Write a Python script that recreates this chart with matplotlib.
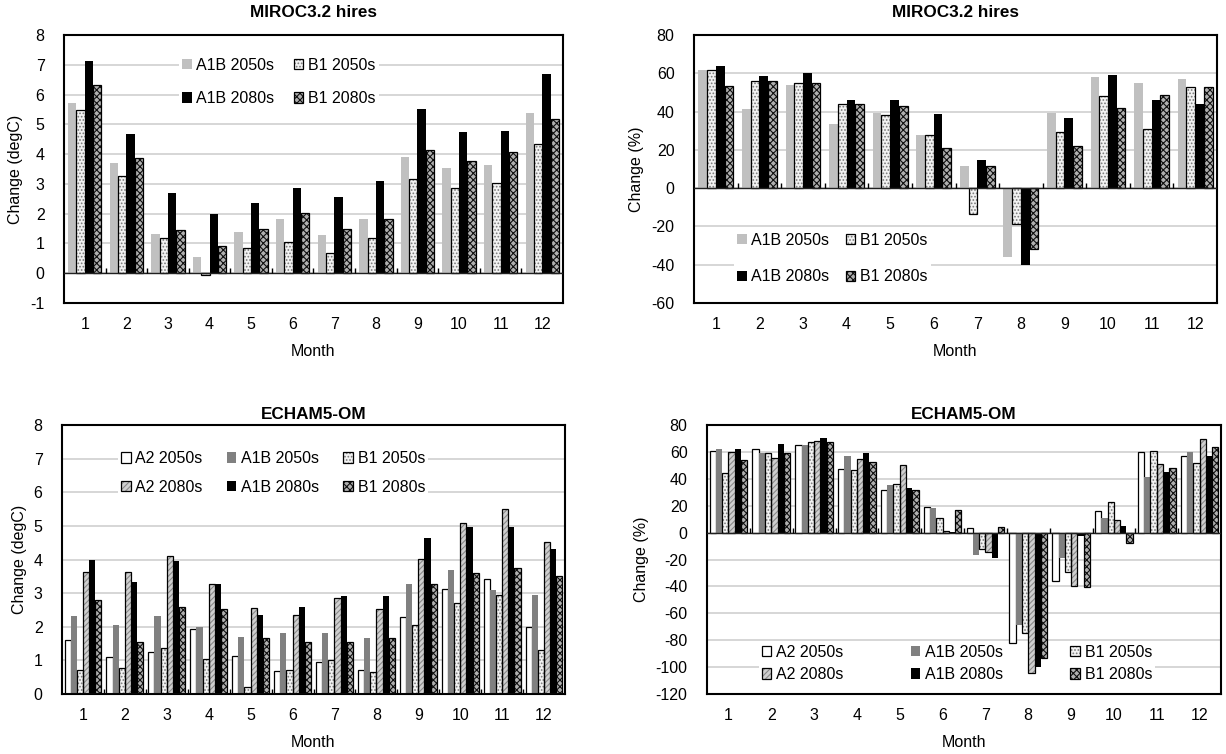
import numpy as np
import matplotlib
matplotlib.use('Agg')
import matplotlib.pyplot as plt
from matplotlib.legend_handler import HandlerTuple

plt.rcParams['font.family'] = ['Liberation Sans', 'DejaVu Sans']
plt.rcParams['font.size'] = 11
plt.rcParams['hatch.linewidth'] = 0.8

months = np.arange(1, 13)
month_labels = [str(m) for m in months]

# MIROC3.2 hires - temperature change (degC)
miroc_t_a1b_2050 = [5.72, 3.69, 1.31, 0.54, 1.40, 1.82, 1.30, 1.82, 3.90, 3.53, 3.63, 5.37]
miroc_t_b1_2050 = [5.47, 3.26, 1.17, -0.07, 0.86, 1.05, 0.68, 1.17, 3.15, 2.85, 3.04, 4.35]
miroc_t_a1b_2080 = [7.12, 4.69, 2.68, 1.98, 2.37, 2.86, 2.56, 3.11, 5.50, 4.73, 4.79, 6.70]
miroc_t_b1_2080 = [6.31, 3.88, 1.44, 0.91, 1.47, 2.03, 1.50, 1.81, 4.13, 3.78, 4.06, 5.17]

# MIROC3.2 hires - precipitation change (%)
miroc_p_a1b_2050 = [61.5, 41.5, 54.0, 33.5, 39.0, 28.0, 11.8, -36.2, 39.5, 58.0, 55.0, 57.2]
miroc_p_b1_2050 = [61.5, 56.0, 55.0, 44.0, 38.0, 27.5, -13.7, -18.9, 29.5, 48.2, 31.0, 52.9]
miroc_p_a1b_2080 = [64.0, 58.5, 60.0, 46.0, 46.0, 38.5, 14.6, -40.4, 36.4, 59.1, 45.8, 44.0]
miroc_p_b1_2080 = [53.5, 56.0, 55.0, 44.0, 43.0, 21.0, 11.4, -32.0, 22.2, 42.0, 48.7, 52.9]

# ECHAM5-OM - temperature change (degC)
echam_t_a2_2050 = [1.62, 1.10, 1.26, 1.92, 1.14, 0.69, 0.96, 0.72, 2.28, 3.12, 3.42, 2.00]
echam_t_a1b_2050 = [2.31, 2.04, 2.31, 1.98, 1.71, 1.81, 1.82, 1.68, 3.26, 3.70, 3.10, 2.93]
echam_t_b1_2050 = [0.72, 0.77, 1.38, 1.05, 0.20, 0.72, 1.02, 0.64, 2.05, 2.70, 2.95, 1.30]
echam_t_a2_2080 = [3.64, 3.62, 4.10, 3.26, 2.56, 2.36, 2.86, 2.52, 4.02, 5.09, 5.51, 4.53]
echam_t_a1b_2080 = [4.00, 3.32, 3.97, 3.26, 2.36, 2.58, 2.90, 2.90, 4.65, 4.96, 4.97, 4.32]
echam_t_b1_2080 = [2.79, 1.56, 2.58, 2.52, 1.68, 1.56, 1.56, 1.68, 3.26, 3.61, 3.75, 3.52]

# ECHAM5-OM - precipitation change (%)
echam_p_a2_2050 = [61.0, 62.0, 65.0, 47.6, 32.0, 19.0, 3.7, -82.0, -35.7, 16.4, 59.6, 56.6]
echam_p_a1b_2050 = [62.5, 59.0, 65.0, 56.6, 35.7, 18.0, -16.6, -68.7, -19.0, 11.2, 41.7, 59.6]
echam_p_b1_2050 = [44.0, 59.5, 67.0, 46.6, 36.0, 11.0, -12.0, -74.4, -29.0, 22.6, 60.5, 51.6]
echam_p_a2_2080 = [60.0, 55.5, 68.0, 54.8, 50.0, 1.0, -14.6, -104.7, -39.5, 9.7, 50.9, 69.5]
echam_p_a1b_2080 = [62.0, 66.0, 70.0, 59.0, 32.8, 0.7, -19.0, -99.7, -2.2, 5.2, 45.4, 57.0]
echam_p_b1_2080 = [54.0, 59.5, 67.0, 52.4, 32.0, 17.0, 4.5, -93.5, -40.4, -7.4, 48.4, 64.0]

# bar styles: (face, hatch, hatch colour, outline)
STYLE = {
    'A2 2050s': ('white', None, None, 'black'),
    'A1B 2050s light': ('#c0c0c0', None, None, None),
    'A1B 2050s dark': ('#808080', None, None, None),
    'B1 2050s': ('#f2f2f2', '.....', '#7a7a7a', 'black'),
    'A2 2080s': ('#cfcfcf', '//////', '#8a8a8a', 'black'),
    'A1B 2080s': ('black', None, None, None),
    'B1 2080s': ('#b0b0b0', 'xxxxx', '#101010', 'black'),
}


def draw_panel(ax, series, title, ylabel, ylim, yticks, leg_anchor, ncol,
               colspace, labspace, group_w, title_pad):
    # series are listed row by row as they appear in the legend
    n = len(series)
    w = group_w / n
    handles, labels = [], []
    for i, (label, style_key, vals) in enumerate(series):
        face, hatch, hcol, edge = STYLE[style_key]
        x = months - group_w / 2 + w * (i + 0.5)
        if hatch:
            b1 = ax.bar(x, vals, w, color=face, hatch=hatch, edgecolor=hcol,
                        linewidth=0, zorder=2)
            b2 = ax.bar(x, vals, w, fill=False, edgecolor=edge,
                        linewidth=0.9, zorder=3)
            h = (b1[0], b2[0])
        elif edge:
            b = ax.bar(x, vals, w, color=face, edgecolor=edge, linewidth=0.9,
                       zorder=2)
            h = b[0]
        else:
            b = ax.bar(x, vals, w, color=face, linewidth=0, zorder=2)
            h = b[0]
        handles.append(h)
        labels.append(label)

    ax.set_xlim(0.5, 12.5)
    ax.set_ylim(*ylim)
    ax.set_yticks(yticks)
    ax.set_yticklabels([str(t) for t in yticks])
    ax.set_xticks(months)
    ax.set_xticklabels(month_labels)
    ax.tick_params(axis='x', length=0, labelsize=11.5, pad=10)
    ax.tick_params(axis='y', length=0, labelsize=11.5, pad=14)
    ax.grid(axis='y', color='#d0d0d0', linewidth=1.2, zorder=0)
    ax.set_axisbelow(True)
    for s in ax.spines.values():
        s.set_linewidth(1.5)

    # zero line with Excel-style tick marks between months
    ax.axhline(0, color='#202020', linewidth=1.0, zorder=4)
    tick_h = (ylim[1] - ylim[0]) * 0.018
    ax.vlines(np.arange(1.5, 12.5, 1.0), 0, tick_h, color='black',
              linewidth=1.0, zorder=4)

    ax.set_title(title, fontweight='bold', fontsize=12.3, pad=title_pad)
    ax.set_ylabel(ylabel, fontsize=11.5, labelpad=5)
    ax.set_xlabel('Month', fontsize=11.5, labelpad=9)

    # matplotlib fills legend columns first, so reorder to get rows
    nrow = int(np.ceil(n / ncol))
    order = [r * ncol + c for c in range(ncol) for r in range(nrow)]
    leg = ax.legend([handles[k] for k in order], [labels[k] for k in order],
                    ncol=ncol, loc='center left',
                    bbox_to_anchor=leg_anchor, frameon=True, fancybox=False,
                    facecolor='white', edgecolor='none', framealpha=1,
                    fontsize=11.5, handlelength=0.6, handleheight=0.6,
                    handletextpad=0.3, columnspacing=colspace,
                    labelspacing=labspace, borderpad=0.2,
                    handler_map={tuple: HandlerTuple(ndivide=1, pad=0)})
    leg.set_zorder(1)


fig = plt.figure(figsize=(12.26, 7.54), dpi=100)
W, H = 1226.0, 754.0


def add_axes(l, t, r, b):
    return fig.add_axes([l / W, 1 - b / H, (r - l) / W, (b - t) / H])


ax1 = add_axes(64, 35, 563, 303)
ax2 = add_axes(694, 35, 1217, 303)
ax3 = add_axes(62, 425, 565, 694)
ax4 = add_axes(707, 425, 1221, 694)

draw_panel(ax1,
           [('A1B 2050s', 'A1B 2050s light', miroc_t_a1b_2050),
            ('B1 2050s', 'B1 2050s', miroc_t_b1_2050),
            ('A1B 2080s', 'A1B 2080s', miroc_t_a1b_2080),
            ('B1 2080s', 'B1 2080s', miroc_t_b1_2080)],
           'MIROC3.2 hires', 'Change (degC)', (-1, 8), list(range(-1, 9)),
           (0.214, 0.825), 2, 1.2, 1.15, 0.8, 13)

draw_panel(ax2,
           [('A1B 2050s', 'A1B 2050s light', miroc_p_a1b_2050),
            ('B1 2050s', 'B1 2050s', miroc_p_b1_2050),
            ('A1B 2080s', 'A1B 2080s', miroc_p_a1b_2080),
            ('B1 2080s', 'B1 2080s', miroc_p_b1_2080)],
           'MIROC3.2 hires', 'Change (%)', (-60, 80), list(range(-60, 81, 20)),
           (0.061, 0.166), 2, 1.0, 1.35, 0.8, 13)

draw_panel(ax3,
           [('A2 2050s', 'A2 2050s', echam_t_a2_2050),
            ('A1B 2050s', 'A1B 2050s dark', echam_t_a1b_2050),
            ('B1 2050s', 'B1 2050s', echam_t_b1_2050),
            ('A2 2080s', 'A2 2080s', echam_t_a2_2080),
            ('A1B 2080s', 'A1B 2080s', echam_t_a1b_2080),
            ('B1 2080s', 'B1 2080s', echam_t_b1_2080)],
           'ECHAM5-OM', 'Change (degC)', (0, 8), list(range(0, 9)),
           (0.095, 0.822), 3, 1.5, 0.85, 0.88, 4)

draw_panel(ax4,
           [('A2 2050s', 'A2 2050s', echam_p_a2_2050),
            ('A1B 2050s', 'A1B 2050s dark', echam_p_a1b_2050),
            ('B1 2050s', 'B1 2050s', echam_p_b1_2050),
            ('A2 2080s', 'A2 2080s', echam_p_a2_2080),
            ('A1B 2080s', 'A1B 2080s', echam_p_a1b_2080),
            ('B1 2080s', 'B1 2080s', echam_p_b1_2080)],
           'ECHAM5-OM', 'Change (%)', (-120, 80), list(range(-120, 81, 20)),
           (0.085, 0.113), 3, 4.2, 0.45, 0.88, 4)

fig.savefig('out.png', dpi=100)
